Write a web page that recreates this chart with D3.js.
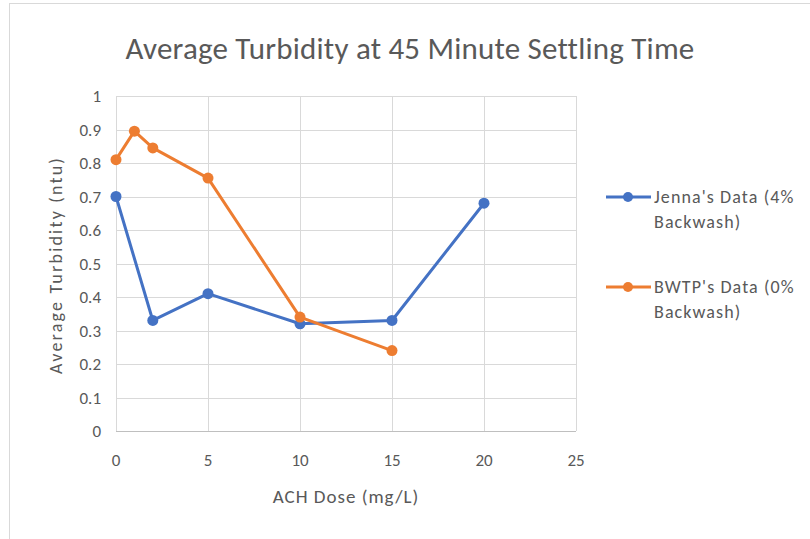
<!DOCTYPE html>
<html><head><meta charset="utf-8">
<script src="https://cdn.jsdelivr.net/npm/d3@7"></script>
<style>body{margin:0;background:#fff}svg{display:block}text{font-family:Carlito,Lato,sans-serif}</style>
</head><body>
<script>
const xTicks = [0,5,10,15,20,25];
const yTicks = [0,0.1,0.2,0.3,0.4,0.5,0.6,0.7,0.8,0.9,1];
const jennaX = [0,2,5,10,15,20];
const jennaY = [0.70,0.33,0.41,0.32,0.33,0.68];
const bwtpX = [0,1,2,5,10,15];
const bwtpY = [0.81,0.895,0.845,0.755,0.34,0.24];
const seriesNames = [["Jenna's Data (4%","Backwash)"],["BWTP's Data (0%","Backwash)"]];
const colors = ["#4472C4","#ED7D31"];

const W=810,H=539;
const svg=d3.select("body").append("svg").attr("width",W).attr("height",H);
svg.append("rect").attr("x",9.5).attr("y",3.5).attr("width",W+5).attr("height",H+5).attr("fill","#fff").attr("stroke","#d9d9d9");

const x=d3.scaleLinear().domain([0,25]).range([116,576]);
const y=d3.scaleLinear().domain([0,1]).range([431,96]);

// grid
svg.append("g").selectAll("line").data(yTicks.slice(1)).join("line")
 .attr("x1",x(0)).attr("x2",x(25)).attr("y1",d=>Math.round(y(d))+0.5).attr("y2",d=>Math.round(y(d))+0.5)
 .attr("stroke","#d9d9d9").attr("stroke-width",1);
svg.append("g").selectAll("line").data(xTicks).join("line")
 .attr("y1",y(0)).attr("y2",y(1)).attr("x1",d=>Math.round(x(d))+0.5).attr("x2",d=>Math.round(x(d))+0.5)
 .attr("stroke","#d9d9d9").attr("stroke-width",1);
svg.append("line").attr("x1",x(0)).attr("x2",x(25)).attr("y1",Math.round(y(0))+0.5).attr("y2",Math.round(y(0))+0.5).attr("stroke","#bfbfbf");

// axes labels
svg.append("g").selectAll("text").data(yTicks).join("text")
 .attr("x",101).attr("y",d=>y(d)+6).attr("text-anchor","end").attr("font-size",17).attr("fill","#595959")
 .text(d=>d3.format("~g")(d));
svg.append("g").selectAll("text").data(xTicks).join("text")
 .attr("x",d=>x(d)).attr("y",466).attr("text-anchor","middle").attr("font-size",17).attr("fill","#595959")
 .text(d=>d);

svg.append("text").attr("x",346).attr("y",503).attr("text-anchor","middle").attr("font-size",19).attr("letter-spacing",1).attr("fill","#595959").text("ACH Dose (mg/L)");
svg.append("text").attr("transform","translate(62,265) rotate(-90)").attr("text-anchor","middle").attr("font-size",18).attr("fill","#595959").attr("letter-spacing",2.2).text("Average Turbidity (ntu)");
svg.append("text").attr("x",410).attr("y",59).attr("text-anchor","middle").attr("font-size",31).attr("letter-spacing",0.2).attr("fill","#595959").text("Average Turbidity at 45 Minute Settling Time");

const line=d3.line().x(d=>x(d[0])).y(d=>y(d[1]));
const data=[d3.zip(jennaX,jennaY),d3.zip(bwtpX,bwtpY)];
data.forEach((s,i)=>{
  svg.append("path").datum(s).attr("d",line).attr("fill","none").attr("stroke",colors[i]).attr("stroke-width",3).attr("stroke-linejoin","round");
  svg.append("g").selectAll("circle").data(s).join("circle").attr("cx",d=>x(d[0])).attr("cy",d=>y(d[1])).attr("r",5.5).attr("fill",colors[i]);
});

// legend
const lg=svg.append("g");
seriesNames.forEach((n,i)=>{
  const ly=197+i*90;
  lg.append("line").attr("x1",606).attr("x2",651).attr("y1",ly).attr("y2",ly).attr("stroke",colors[i]).attr("stroke-width",3);
  lg.append("circle").attr("cx",628).attr("cy",ly).attr("r",5).attr("fill",colors[i]);
  n.forEach((t,j)=>lg.append("text").attr("x",654).attr("y",ly+6+j*25).attr("font-size",18).attr("letter-spacing",1.1).attr("fill","#595959").text(t));
});
</script>
</body></html>
